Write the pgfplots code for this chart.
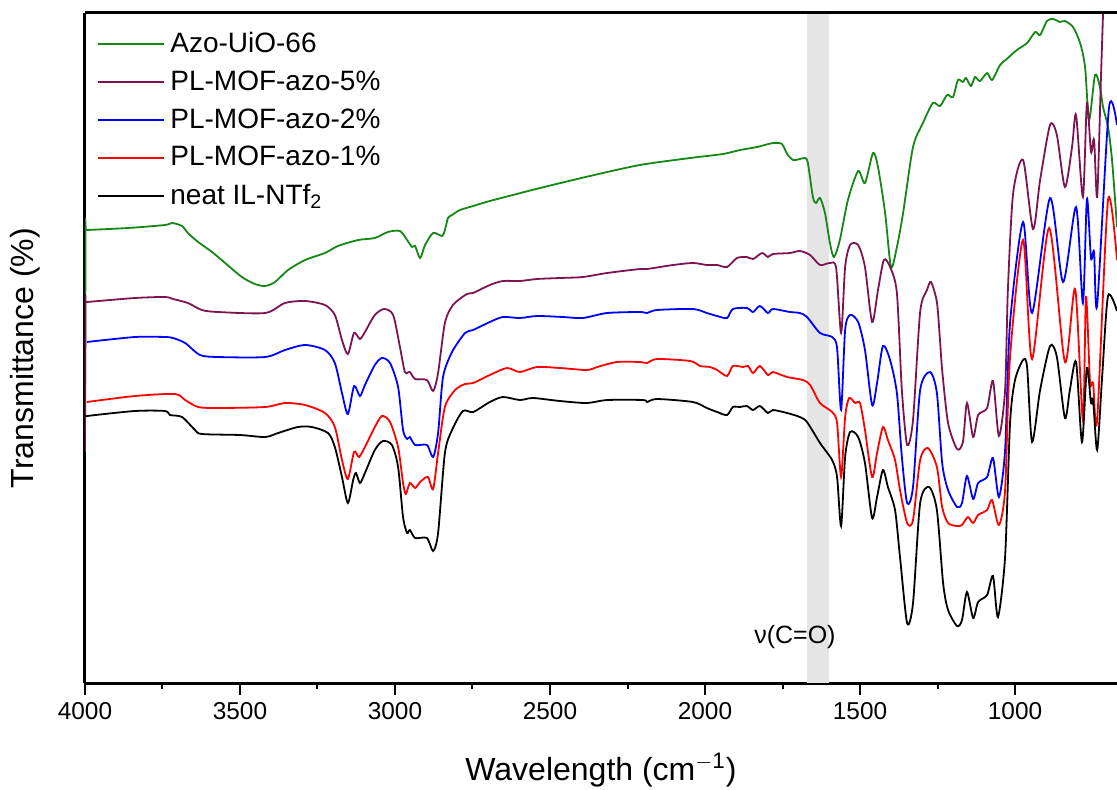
\documentclass[border=0pt]{standalone}
\usepackage{pgfplots}
\pgfplotsset{compat=1.18}
\usepackage{fontspec}
\setmainfont{Liberation Sans}
\definecolor{cgreen}{RGB}{20,135,20}
\definecolor{cwine}{RGB}{125,20,80}
\definecolor{cblue}{RGB}{0,0,255}
\definecolor{cred}{RGB}{255,0,0}
\begin{document}
\begin{tikzpicture}
\begin{axis}[
  scale only axis, width=516pt, height=335pt,
  x dir=reverse, xmin=671, xmax=4000, ymin=0, ymax=670,
  axis lines*=left, axis line style={-, line width=1.5pt},
  xtick={1000,1500,2000,2500,3000,3500,4000}, minor x tick num=1,
  ytick=\empty, tick align=outside,
  major tick length=6pt, minor tick length=3pt,
  every tick/.style={black, line width=1pt},
  /pgf/number format/1000 sep={}, /pgf/number format/assume math mode=true,
  tick label style={font=\fontsize{12.2}{14}\selectfont},
  xlabel={Wavelength (cm$^{\mathrm{-1}}$)},
  ylabel={Transmittance (\%)},
  label style={font=\fontsize{16}{19}\selectfont},
  xlabel style={at={(axis description cs:0.5,0)}, anchor=center, yshift=-43.5pt},
  ylabel style={at={(axis description cs:-0.0581,0.485)}, anchor=center},
  legend style={at={(0,1)}, anchor=north west, draw=none, fill=none,
    font=\fontsize{14}{17}\selectfont, xshift=3pt, yshift=-5pt,
    row sep=2.6pt, nodes={inner sep=2.5pt}},
  legend cell align=left,
  legend image code/.code={\draw[#1, line width=1pt] (0pt,0pt) -- (33pt,0pt);},
  every axis plot/.append style={line width=0.9pt, smooth, tension=0.45},
  clip=true,
]
\addplot[draw=none, fill=black!10, forget plot, sharp plot] coordinates {(1670,0) (1600,0) (1600,670) (1670,670)} -- cycle;
% Azo-UiO-66
\addplot[color=cgreen] coordinates {
(4000,250) (3998,453) (3994,453) (3861,455) (3742,458) (3719,460) (3687,457) (3668,450)
(3635,441) (3590,431) (3548,420) (3494,406) (3452,399) (3419,397) (3387,401) (3345,413)
(3290,423) (3226,430) (3184,437) (3119,443) (3065,445) (3023,451) (2984,452) (2961,443)
(2945,436) (2935,437) (2919,425) (2903,438) (2877,450) (2848,447) (2839,453) (2829,465)
(2816,468) (2790,473) (2748,477) (2694,482) (2532,495) (2371,507) (2210,518) (2048,525)
(1942,529) (1887,533) (1832,536) (1781,540) (1752,539) (1735,529) (1716,523) (1694,524)
(1677,525) (1668,520) (1652,486) (1642,480) (1629,485) (1613,470) (1597,440) (1584,426)
(1565,443) (1539,483) (1506,512) (1484,500) (1458,530) (1442,516) (1419,470) (1400,416)
(1381,436) (1361,470) (1329,536) (1297,560) (1265,580) (1242,577) (1219,588) (1200,586)
(1184,603) (1168,601) (1158,605) (1142,597) (1129,606) (1113,602) (1090,610) (1074,603)
(1048,618) (1023,625) (994,633) (961,640) (935,651) (919,648) (897,662) (877,664)
(855,661) (839,662) (813,656) (790,640) (774,616) (761,563) (742,608) (726,596)
(716,576) (700,556) (687,523) (671,456)
};
\addlegendentry{Azo-UiO-66}
% 5%
\addplot[color=cwine] coordinates {
(4000,231) (3998,381) (3994,381) (3839,385) (3742,386) (3716,384) (3668,380) (3623,373)
(3571,371) (3419,370) (3355,380) (3290,382) (3226,378) (3194,368) (3171,343) (3152,329)
(3132,350) (3113,344) (3097,351) (3065,368) (3035,374) (3006,368) (2984,336) (2968,311)
(2952,311) (2935,304) (2897,303) (2877,292) (2861,310) (2839,360) (2813,378) (2768,389)
(2748,390) (2694,398) (2652,402) (2597,402) (2542,404) (2468,405) (2394,406) (2316,410)
(2210,414) (2187,414) (2103,418) (2039,420) (1994,418) (1961,418) (1929,416) (1897,425)
(1865,426) (1845,424) (1816,430) (1797,426) (1781,429) (1726,430) (1694,432) (1661,428)
(1629,418) (1597,420) (1577,415) (1561,350) (1548,416) (1532,438) (1506,438) (1484,416)
(1461,361) (1442,393) (1423,423) (1403,416) (1381,390) (1365,293) (1348,238) (1329,263)
(1306,371) (1284,393) (1271,401) (1252,381) (1242,343) (1235,313) (1216,260) (1187,234)
(1168,241) (1155,280) (1135,246) (1119,268) (1090,275) (1071,302) (1052,247) (1032,293)
(1023,393) (1006,490) (974,523) (942,454) (919,503) (887,558) (865,548) (839,496)
(816,536) (803,568) (781,486) (768,580) (755,531) (745,543) (735,486) (723,603)
(716,670) (705,780)
};
\addlegendentry{PL-MOF-azo-5\%}
% 2%
\addplot[color=cblue] coordinates {
(3994,341) (3839,346) (3742,346) (3716,345) (3677,340) (3629,328) (3571,326) (3419,326)
(3355,333) (3290,338) (3226,333) (3194,320) (3171,290) (3152,269) (3132,297) (3113,287)
(3097,298) (3065,318) (3042,325) (3016,320) (2990,296) (2974,253) (2961,244) (2952,246)
(2935,238) (2897,238) (2877,226) (2861,250) (2845,306) (2816,331) (2774,350) (2748,353)
(2694,361) (2652,366) (2597,365) (2542,367) (2458,366) (2394,365) (2316,370) (2210,371)
(2187,370) (2155,373) (2039,374) (1994,370) (1961,367) (1929,365) (1910,374) (1865,375)
(1845,371) (1823,377) (1797,370) (1781,374) (1726,371) (1694,370) (1671,366) (1629,350)
(1590,346) (1574,335) (1561,273) (1548,353) (1532,368) (1506,361) (1484,333) (1461,278)
(1445,300) (1426,337) (1403,323) (1381,290) (1365,226) (1348,180) (1329,196) (1306,293)
(1274,311) (1252,290) (1235,220) (1216,193) (1187,176) (1171,180) (1155,207) (1135,184)
(1119,200) (1090,206) (1071,225) (1052,186) (1032,233) (1016,360) (974,461) (945,370)
(887,485) (845,401) (803,476) (781,380) (768,484) (755,425) (745,431) (735,378)
(697,575) (671,558)
};
\addlegendentry{PL-MOF-azo-2\%}
% 1%
\addplot[color=cred] coordinates {
(3994,281) (3839,287) (3710,289) (3677,283) (3635,276) (3571,275) (3419,276) (3355,280)
(3290,278) (3226,270) (3194,256) (3171,223) (3152,204) (3132,231) (3116,226) (3097,236)
(3065,256) (3042,267) (3016,261) (2990,236) (2974,200) (2965,189) (2952,200) (2935,195)
(2919,201) (2894,206) (2877,194) (2861,230) (2839,276) (2806,293) (2774,299) (2748,300)
(2694,308) (2639,315) (2597,311) (2542,316) (2468,315) (2381,313) (2348,316) (2284,321)
(2210,321) (2187,320) (2155,324) (2048,322) (2016,317) (1984,316) (1961,313) (1929,307)
(1910,317) (1877,316) (1861,317) (1845,310) (1823,317) (1797,308) (1781,311) (1735,306)
(1684,303) (1661,298) (1629,280) (1590,271) (1574,260) (1561,206) (1548,266) (1535,285)
(1516,280) (1500,280) (1484,253) (1461,206) (1445,230) (1426,256) (1410,243) (1387,223)
(1371,193) (1348,160) (1329,163) (1306,223) (1281,235) (1252,216) (1235,176) (1216,160)
(1187,157) (1171,158) (1152,166) (1135,160) (1119,168) (1090,173) (1074,183) (1052,158)
(1032,193) (1016,326) (974,443) (945,324) (890,455) (839,321) (806,394) (781,263)
(771,386) (758,301) (748,300) (735,263) (700,483) (671,423)
};
\addlegendentry{PL-MOF-azo-1\%}
% neat
\addplot[color=black] coordinates {
(4000,266) (3994,267) (3839,272) (3742,272) (3726,268) (3687,266) (3645,253) (3623,249)
(3500,248) (3419,246) (3377,250) (3313,256) (3268,256) (3216,250) (3194,236) (3171,206)
(3152,180) (3135,203) (3126,210) (3113,200) (3097,210) (3065,233) (3039,242) (3010,238)
(2990,216) (2974,166) (2961,150) (2952,153) (2935,145) (2897,145) (2877,132) (2861,150)
(2839,230) (2816,253) (2781,272) (2748,271) (2694,281) (2652,286) (2597,283) (2555,285)
(2468,282) (2381,280) (2316,283) (2200,283) (2187,281) (2155,284) (2039,281) (1994,275)
(1961,271) (1929,268) (1910,276) (1887,276) (1865,277) (1845,273) (1823,277) (1797,270)
(1781,273) (1735,270) (1694,266) (1671,261) (1629,240) (1590,223) (1574,206) (1561,157)
(1548,226) (1532,251) (1506,246) (1484,220) (1461,165) (1445,186) (1426,213) (1410,196)
(1387,173) (1371,126) (1348,60) (1329,80) (1306,180) (1277,196) (1252,173) (1232,100)
(1216,73) (1187,57) (1171,63) (1155,91) (1135,65) (1119,81) (1090,88) (1071,107)
(1055,66) (1032,126) (1016,260) (1000,303) (974,323) (961,316) (945,241) (919,293)
(887,337) (865,326) (839,265) (823,293) (803,321) (784,241) (768,315) (755,280)
(748,283) (735,233) (719,306) (700,387) (671,372)
};
\addlegendentry{neat IL-NTf$_{\mathrm{2}}$}
\node[font=\fontsize{12.5}{15}\selectfont] at (axis cs:1710,46) {ν(C=O)};
\end{axis}
\draw[line width=1.5pt] (current axis.north west) -- (current axis.north east);
\pgfresetboundingbox
\path ([xshift=-42.5pt,yshift=-53pt]current axis.south west) rectangle ([yshift=6.5pt]current axis.north east);
\end{tikzpicture}
\end{document}
